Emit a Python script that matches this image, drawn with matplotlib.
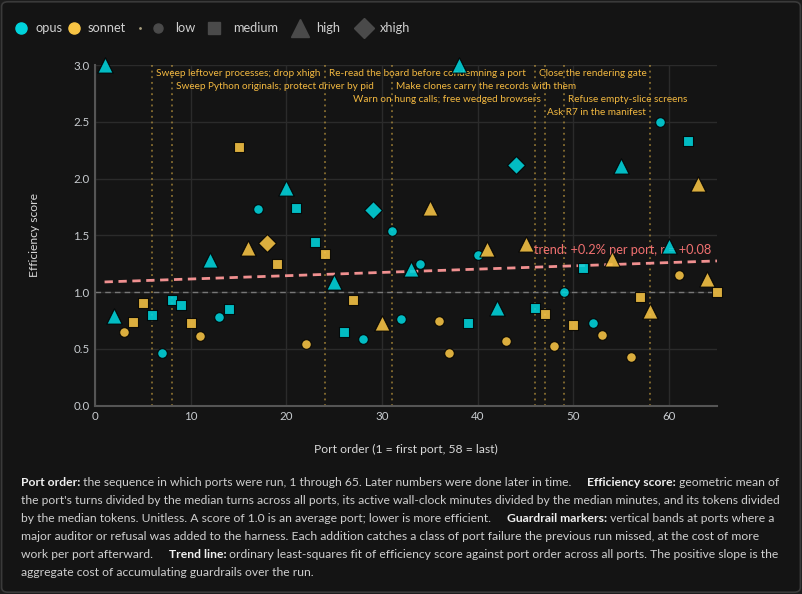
import numpy as np
import matplotlib.pyplot as plt
from matplotlib.lines import Line2D
from matplotlib.patches import FancyBboxPatch
from matplotlib import transforms

plt.rcParams['font.family'] = ['Lato', 'DejaVu Sans']

# port order, efficiency score, model and effort for every port
port = list(range(1, 66))
score = [3.00, 0.79, 0.65, 0.74, 0.90, 0.80, 0.46, 0.93, 0.89, 0.73,
         0.61, 1.28, 0.785, 0.85, 2.28, 1.39, 1.73, 1.43, 1.25, 1.92,
         1.74, 0.54, 1.44, 1.34, 1.09, 0.65, 0.93, 0.59, 1.72, 0.73,
         1.54, 0.76, 1.20, 1.25, 1.74, 0.75, 0.46, 3.00, 0.73, 1.33,
         1.38, 0.86, 0.57, 2.12, 1.42, 0.86, 0.81, 0.53, 1.00, 0.71,
         1.21, 0.73, 0.62, 1.29, 2.11, 0.43, 0.96, 0.83, 2.50, 1.41,
         1.15, 2.33, 1.95, 1.12, 1.00]
model = ['o', 'o', 's', 's', 's', 'o', 'o', 'o', 'o', 's',
         's', 'o', 'o', 'o', 's', 's', 'o', 's', 's', 'o',
         'o', 's', 'o', 's', 'o', 'o', 's', 'o', 'o', 's',
         'o', 'o', 'o', 'o', 's', 's', 's', 'o', 'o', 'o',
         's', 'o', 's', 'o', 's', 'o', 's', 's', 'o', 's',
         'o', 'o', 's', 's', 'o', 's', 's', 's', 'o', 'o',
         's', 'o', 's', 's', 's']
effort = ['H', 'H', 'L', 'M', 'M', 'M', 'L', 'M', 'M', 'M',
          'L', 'H', 'L', 'M', 'M', 'H', 'L', 'X', 'M', 'H',
          'M', 'L', 'M', 'M', 'H', 'M', 'M', 'L', 'X', 'H',
          'L', 'L', 'H', 'L', 'H', 'L', 'L', 'H', 'M', 'L',
          'H', 'H', 'L', 'X', 'H', 'M', 'M', 'L', 'L', 'M',
          'M', 'L', 'L', 'H', 'H', 'L', 'M', 'H', 'L', 'H',
          'L', 'M', 'H', 'H', 'M']

guard_x = [6, 8, 24, 31, 46, 47, 49, 58]
guard_text = ['Sweep leftover processes; drop xhigh',
              'Sweep Python originals; protect driver by pid',
              'Re-read the board before condemning a port',
              'Make clones carry the records with them',
              'Close the rendering gate',
              'Warn on hung calls; free wedged browsers',
              'Refuse empty-slice screens',
              'Ask R7 in the manifest']
guard_row = [0, 1, 0, 1, 0, 2, 2, 3]
guard_side = ['r', 'r', 'r', 'r', 'r', 'l', 'r', 'l']

trend_label = 'trend: +0.2% per port, r = +0.08'

BG = '#141414'
CYAN = '#00d4dc'
GOLD = '#f8c444'
GRAY = '#4a4a4a'
colors = {'o': CYAN, 's': GOLD}
markers = {'L': 'o', 'M': 's', 'H': '^', 'X': 'D'}
sizes = {'L': 48, 'M': 62, 'H': 120, 'X': 82}

# legend entries: label, marker, size, colour, handle x / text x in pixels
leg_label = ['opus', 'sonnet', '', 'low', 'medium', 'high', 'xhigh']
leg_marker = ['o', 'o', '.', 'o', 's', '^', 'D']
leg_size = [8, 8, 2, 6.5, 8.5, 13.5, 10]
leg_color = [CYAN, GOLD, '#aaa080', GRAY, GRAY, GRAY, GRAY]
leg_hx = [21, 74, 140, 158, 214, 300, 364]
leg_tx = [35, 88, 140, 175, 233, 316, 380]

W, H = 802, 594
fig = plt.figure(figsize=(W / 100, H / 100), dpi=100, facecolor='#1c1c1c')
fig.patches.append(FancyBboxPatch((0.002, 0.003), 0.996, 0.994, boxstyle='round,pad=0,rounding_size=0.008',
                                  transform=fig.transFigure, facecolor=BG, edgecolor='#3a3a3a',
                                  linewidth=1.2, zorder=-10))
ax = fig.add_axes([95 / W, 1 - 405.7 / H, 622 / W, 340.7 / H])
ax.set_facecolor(BG)
ax.set_xlim(0, 65)
ax.set_ylim(0, 3.0)
ax.set_xticks(range(0, 61, 10))
ax.set_yticks(np.arange(0, 3.01, 0.5))
ax.yaxis.set_major_formatter(plt.FormatStrFormatter('%.1f'))
ax.grid(True, color='#2b2b2b', linewidth=1)
ax.set_axisbelow(True)
for s in ['top', 'right']:
    ax.spines[s].set_visible(False)
for s in ['left', 'bottom']:
    ax.spines[s].set_color('#555555')
    ax.spines[s].set_linewidth(1.5)
ax.tick_params(length=0, colors='#c8ccd0', labelsize=8.3, pad=4)
ax.set_xlabel('Port order (1 = first port, 58 = last)', color='#d8d8d8', fontsize=8.7, labelpad=15.5)
ax.set_ylabel('Efficiency score', color='#d8d8d8', fontsize=8.7, labelpad=24)

# guardrail bands and labels
trans = transforms.blended_transform_factory(ax.transData, ax.transAxes)
for gx, txt, row, side in zip(guard_x, guard_text, guard_row, guard_side):
    ax.axvline(gx, color='#c8a040', alpha=0.75, linestyle=(0, (1.2, 2.5)), linewidth=1.1, zorder=1)
    dx = 4 if side == 'r' else -4
    ax.annotate(txt, xy=(gx, 1), xycoords=trans, xytext=(dx, -8.3 - 13.2 * row),
                textcoords='offset pixels', ha='left' if side == 'r' else 'right', va='center',
                color='#f2b840', fontsize=7.2, zorder=2)

ax.axhline(1.0, color='#777777', linestyle=(0, (4, 3)), linewidth=1, zorder=1)

# trend line
slope, icpt = np.polyfit(port, score, 1)
tx = np.array([1, 65])
ax.plot(tx, icpt + slope * tx, color='#f09090', linestyle=(0, (3, 2)), linewidth=2, zorder=2)
ax.text(64.4, 1.37, trend_label, color='#f07070', fontsize=9.2, ha='right', va='center', zorder=2)

for p, v, m, e in zip(port, score, model, effort):
    ax.scatter(p, v, marker=markers[e], s=sizes[e], color=colors[m], alpha=0.88,
               edgecolors=(0, 0, 0, 0.25), linewidths=0.8, zorder=5, clip_on=False)

# legend row along the top
ly = 1 - 28 / H
for lab, mk, ms, c, hx, tx_ in zip(leg_label, leg_marker, leg_size, leg_color, leg_hx, leg_tx):
    fig.add_artist(Line2D([hx / W], [ly], transform=fig.transFigure, ls='', marker=mk,
                          markersize=ms, color=c))
    if lab:
        fig.text(tx_ / W, ly, lab, color='#d0d0d0', fontsize=9.2, ha='left', va='center')

# caption with bold lead-ins
caption = [
    [('Port order:', True), (' the sequence in which ports were run, 1 through 65. Later numbers were done later in time.     ', False),
     ('Efficiency score:', True), (' geometric mean of', False)],
    [("the port's turns divided by the median turns across all ports, its active wall-clock minutes divided by the median minutes, and its tokens divided", False)],
    [('by the median tokens. Unitless. A score of 1.0 is an average port; lower is more efficient.     ', False),
     ('Guardrail markers:', True), (' vertical bands at ports where a', False)],
    [('major auditor or refusal was added to the harness. Each addition catches a class of port failure the previous run missed, at the cost of more', False)],
    [('work per port afterward.     ', False), ('Trend line:', True),
     (' ordinary least-squares fit of efficiency score against port order across all ports. The positive slope is the', False)],
    [('aggregate cost of accumulating guardrails over the run.', False)],
]
for i, parts in enumerate(caption):
    y = 1 - (483 + 18 * i) / H
    t = None
    for txt, bold in parts:
        kw = dict(fontsize=8.7, color='#f0f0f0' if bold else '#cfcfcf',
                  weight='bold' if bold else 'normal', va='center', ha='left')
        if t is None:
            t = fig.text(21 / W, y, txt, **kw)
        else:
            t = ax.annotate(txt, xy=(1, 0.5), xycoords=t, annotation_clip=False, **kw)

fig.savefig('out.png', dpi=100, facecolor=fig.get_facecolor())
